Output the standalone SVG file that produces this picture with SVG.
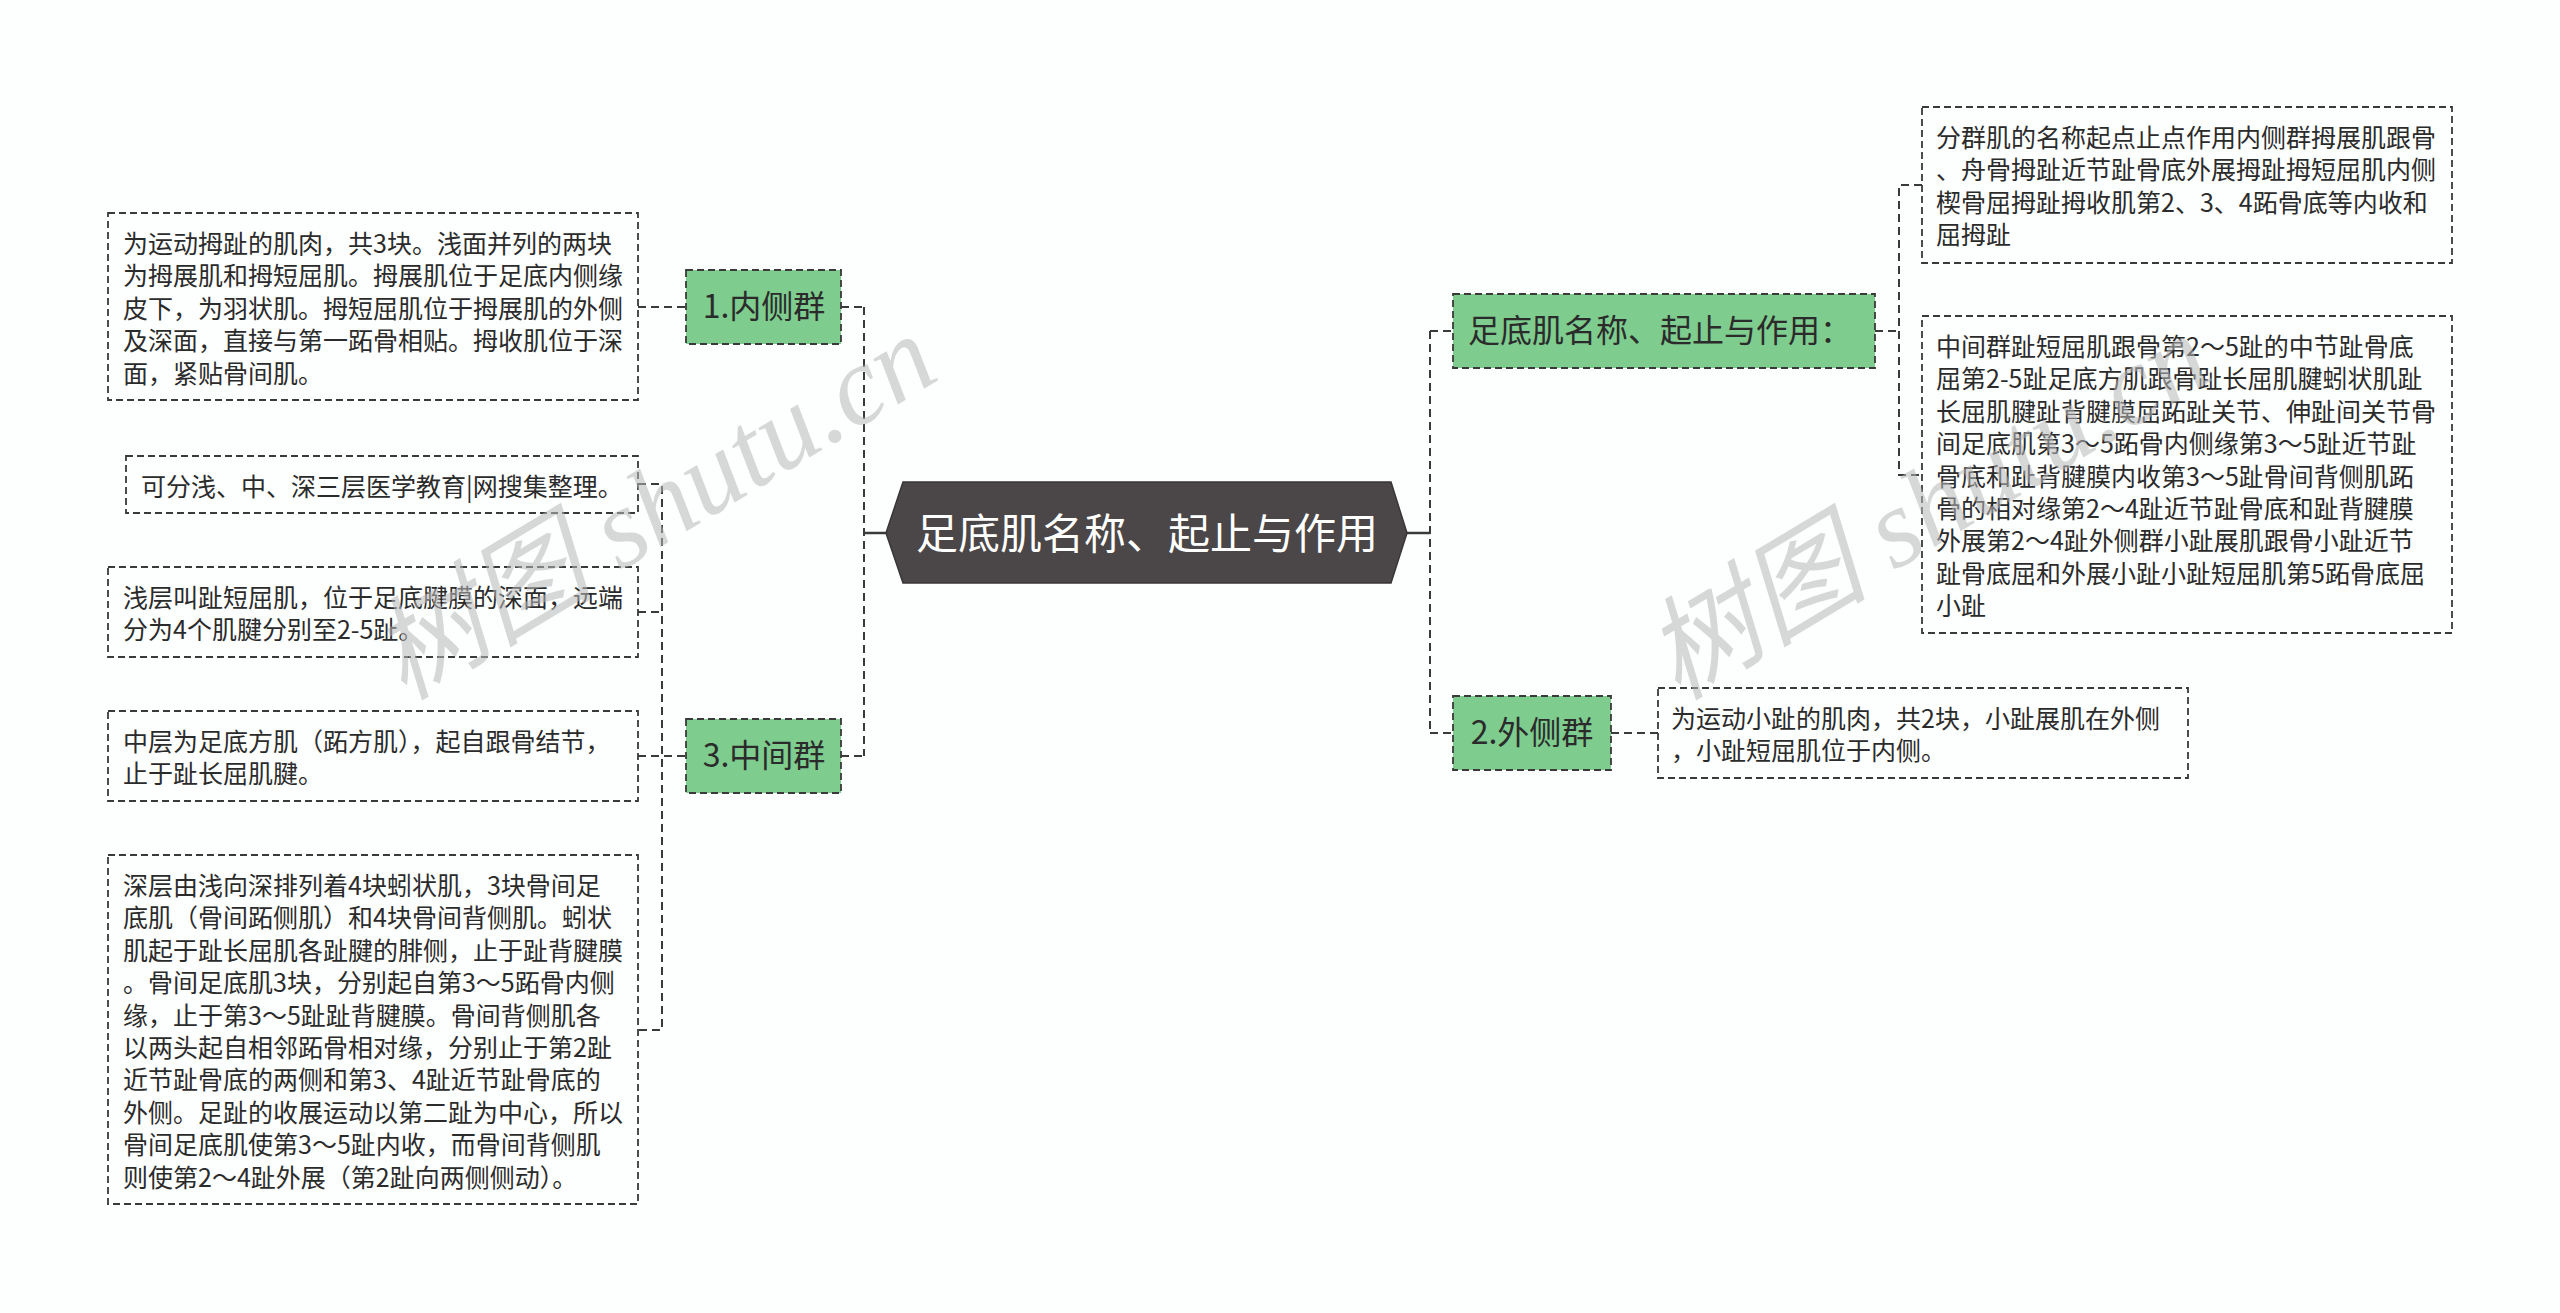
<svg xmlns="http://www.w3.org/2000/svg" width="2560" height="1313" viewBox="0 0 2560 1313">
<style>
.bg{fill:#fdfefe}
.box{fill:none;stroke:#3a3a3a;stroke-width:1.8;stroke-dasharray:7 4}
.node{fill:#7ecc8e;stroke:#3a3a3a;stroke-width:1.8;stroke-dasharray:7 4}
.conn{fill:none;stroke:#3a3a3a;stroke-width:2;stroke-dasharray:8 5}
.solid{fill:none;stroke:#3a3a3a;stroke-width:2.5}
.t{font-family:"Noto Sans CJK SC","Noto Sans",sans-serif;font-size:25px;fill:#2b2b2b}
.nt{font-family:"Noto Sans CJK SC","Noto Sans",sans-serif;font-size:32px;fill:#2b2b2b;text-anchor:middle}
.rt{font-family:"Noto Sans CJK SC","Noto Sans",sans-serif;font-size:42px;fill:#ffffff;text-anchor:middle}
.wm{font-family:"Liberation Serif","Noto Sans CJK SC",serif;font-style:italic;font-size:112px;fill:#b8b8b8;opacity:0.55;text-anchor:middle}
</style>
<rect class="bg" x="0" y="0" width="2560" height="1313"/>

<g id="connectors">
  <!-- root to spines -->
  <path class="solid" d="M864 533 H886"/>
  <path class="solid" d="M1407 533 H1430"/>
  <!-- left spine -->
  <path class="conn" d="M864 307 V756"/>
  <path class="conn" d="M841 307 H864"/>
  <path class="conn" d="M841 756 H864"/>
  <!-- node1 to box1 -->
  <path class="conn" d="M638 307 H686"/>
  <!-- node3 bracket -->
  <path class="conn" d="M638 484 H662 V1030 H638"/>
  <path class="conn" d="M638 612 H662"/>
  <path class="conn" d="M638 756 H686"/>
  <!-- right spine -->
  <path class="conn" d="M1430 331 V733"/>
  <path class="conn" d="M1430 331 H1453"/>
  <path class="conn" d="M1430 733 H1453"/>
  <!-- R1 bracket -->
  <path class="conn" d="M1875 331 H1899"/>
  <path class="conn" d="M1922 185 H1899 V475 H1922"/>
  <!-- R2 to box -->
  <path class="conn" d="M1611 733 H1658"/>
</g>

<g id="root">
  <polygon points="886,533 903,482 1391,482 1407,533 1391,583 903,583" fill="#4b4647" stroke="#3a3637" stroke-width="1.5"/>
  <text class="rt" x="1147" y="549">足底肌名称、起止与作用</text>
</g>

<g id="node-neice">
  <rect class="node" x="686" y="270" width="155" height="74"/>
  <text class="nt" x="764" y="318">1.内侧群</text>
</g>
<g id="box-neice">
  <rect class="box" x="108" y="213" width="530" height="187"/>
  <text class="t" x="123" y="253">为运动拇趾的肌肉，共3块。浅面并列的两块</text>
  <text class="t" x="123" y="285.4">为拇展肌和拇短屈肌。拇展肌位于足底内侧缘</text>
  <text class="t" x="123" y="317.8">皮下，为羽状肌。拇短屈肌位于拇展肌的外侧</text>
  <text class="t" x="123" y="350.2">及深面，直接与第一跖骨相贴。拇收肌位于深</text>
  <text class="t" x="123" y="382.6">面，紧贴骨间肌。</text>
</g>

<g id="node-zhongjian">
  <rect class="node" x="686" y="719" width="155" height="74"/>
  <text class="nt" x="764" y="767">3.中间群</text>
</g>
<g id="box-a">
  <rect class="box" x="126" y="456" width="512" height="57"/>
  <text class="t" x="141" y="496">可分浅、中、深三层医学教育|网搜集整理。</text>
</g>
<g id="box-b">
  <rect class="box" x="108" y="567" width="530" height="90"/>
  <text class="t" x="123" y="607">浅层叫趾短屈肌，位于足底腱膜的深面，远端</text>
  <text class="t" x="123" y="639.4">分为4个肌腱分别至2-5趾。</text>
</g>
<g id="box-c">
  <rect class="box" x="108" y="711" width="530" height="90"/>
  <text class="t" x="123" y="751">中层为足底方肌（跖方肌），起自跟骨结节，</text>
  <text class="t" x="123" y="783.4">止于趾长屈肌腱。</text>
</g>
<g id="box-d">
  <rect class="box" x="108" y="855" width="530" height="349"/>
  <text class="t" x="123" y="895">深层由浅向深排列着4块蚓状肌，3块骨间足</text>
  <text class="t" x="123" y="927.4">底肌（骨间跖侧肌）和4块骨间背侧肌。蚓状</text>
  <text class="t" x="123" y="959.8">肌起于趾长屈肌各趾腱的腓侧，止于趾背腱膜</text>
  <text class="t" x="123" y="992.2">。骨间足底肌3块，分别起自第3～5跖骨内侧</text>
  <text class="t" x="123" y="1024.6">缘，止于第3～5趾趾背腱膜。骨间背侧肌各</text>
  <text class="t" x="123" y="1057">以两头起自相邻跖骨相对缘，分别止于第2趾</text>
  <text class="t" x="123" y="1089.4">近节趾骨底的两侧和第3、4趾近节趾骨底的</text>
  <text class="t" x="123" y="1121.8">外侧。足趾的收展运动以第二趾为中心，所以</text>
  <text class="t" x="123" y="1154.2">骨间足底肌使第3～5趾内收，而骨间背侧肌</text>
  <text class="t" x="123" y="1186.6">则使第2～4趾外展（第2趾向两侧侧动）。</text>
</g>

<g id="node-mingcheng">
  <rect class="node" x="1453" y="294" width="422" height="74"/>
  <text class="nt" x="1660" y="342">足底肌名称、起止与作用：</text>
</g>
<g id="box-r1a">
  <rect class="box" x="1922" y="107" width="530" height="156"/>
  <text class="t" x="1936" y="147">分群肌的名称起点止点作用内侧群拇展肌跟骨</text>
  <text class="t" x="1936" y="179.4">、舟骨拇趾近节趾骨底外展拇趾拇短屈肌内侧</text>
  <text class="t" x="1936" y="211.8">楔骨屈拇趾拇收肌第2、3、4跖骨底等内收和</text>
  <text class="t" x="1936" y="244.2">屈拇趾</text>
</g>
<g id="box-r1b">
  <rect class="box" x="1922" y="316" width="530" height="317"/>
  <text class="t" x="1936" y="356">中间群趾短屈肌跟骨第2～5趾的中节趾骨底</text>
  <text class="t" x="1936" y="388.4">屈第2-5趾足底方肌跟骨趾长屈肌腱蚓状肌趾</text>
  <text class="t" x="1936" y="420.8">长屈肌腱趾背腱膜屈跖趾关节、伸趾间关节骨</text>
  <text class="t" x="1936" y="453.2">间足底肌第3～5跖骨内侧缘第3～5趾近节趾</text>
  <text class="t" x="1936" y="485.6">骨底和趾背腱膜内收第3～5趾骨间背侧肌跖</text>
  <text class="t" x="1936" y="518">骨的相对缘第2～4趾近节趾骨底和趾背腱膜</text>
  <text class="t" x="1936" y="550.4">外展第2～4趾外侧群小趾展肌跟骨小趾近节</text>
  <text class="t" x="1936" y="582.8">趾骨底屈和外展小趾小趾短屈肌第5跖骨底屈</text>
  <text class="t" x="1936" y="615.2">小趾</text>
</g>

<g id="node-waice">
  <rect class="node" x="1453" y="696" width="158" height="74"/>
  <text class="nt" x="1532" y="744">2.外侧群</text>
</g>
<g id="box-r2a">
  <rect class="box" x="1658" y="688" width="530" height="90"/>
  <text class="t" x="1671" y="728">为运动小趾的肌肉，共2块，小趾展肌在外侧</text>
  <text class="t" x="1671" y="760.4">，小趾短屈肌位于内侧。</text>
</g>

<g id="watermarks">
  <text class="wm" x="653" y="545" transform="rotate(-31 653 506)">树图 shutu.cn</text>
  <text class="wm" x="1927" y="545" transform="rotate(-31 1927 506)">树图 shutu.cn</text>
</g>
</svg>
